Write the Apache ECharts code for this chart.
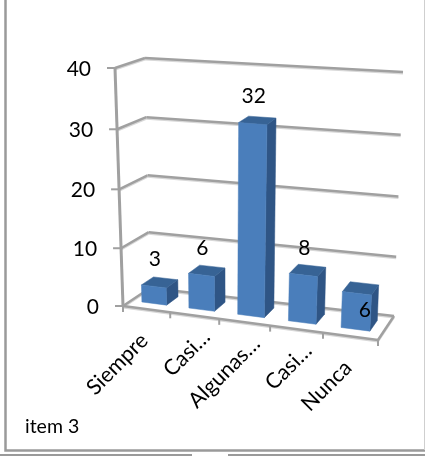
<!DOCTYPE html>
<html>
<head>
<meta charset="utf-8">
<style>html,body{margin:0;padding:0;background:#fff}#chart{width:425px;height:456px}</style>
<script src="https://cdn.jsdelivr.net/npm/echarts@6/dist/echarts.min.js"></script>
</head>
<body>
<div id="chart"></div>
<script>
const categories = ['Siempre', 'Casi…', 'Algunas…', 'Casi…', 'Nunca'];
const values = [3, 6, 32, 8, 6];
const yTicks = [0, 10, 20, 30, 40];
const noteText = 'item 3';

// Corners of the 3D plot box, [x, y] in page pixels.
const box = {
  frontBottomLeft: [123, 306], frontBottomRight: [378, 340],
  backBottomLeft: [150, 288], backBottomRight: [394, 316],
  frontTopLeft: [115, 68], frontTopRight: [392, 88],
  backTopLeft: [145, 58], backTopRight: [403, 72]
};
const fontFamily = 'Lato, Carlito, sans-serif';
const labelSize = 21, categorySize = 21.5, noteSize = 19.5;
const gridStroke = '#a0a0a0', gridShade = '#d8d8d8';
const faceColors = { front: '#4a7ebb', side: '#2f5585', top: '#376395' };
const barBandShare = 0.53, barDepth = [0.3, 0.75];

const lerp = (a, b, t) => a + (b - a) * t;
// Perspective foreshortening along one axis of the box.
const warp = (t, a) => t / (a + (1 - a) * t);

function project(u, v, w) {
  const uu = warp(u, 1.1), vv = warp(v, 1.04);
  const at = k => {
    const bottom = lerp(lerp(box.frontBottomLeft[k], box.frontBottomRight[k], uu),
                        lerp(box.backBottomLeft[k], box.backBottomRight[k], uu), w);
    const top = lerp(lerp(box.frontTopLeft[k], box.frontTopRight[k], uu),
                     lerp(box.backTopLeft[k], box.backTopRight[k], uu), w);
    return lerp(bottom, top, vv);
  };
  return [at(0), at(1)];
}

// Grid-pixel position to box fractions, so the axes' scales drive everything.
const toU = (px, g) => (px - g.x) / g.width;
const toV = (py, g) => 1 - (py - g.y) / g.height;

const line = (a, b, width, color, dy) => ({
  type: 'line',
  shape: { x1: a[0], y1: a[1] + (dy || 0), x2: b[0], y2: b[1] + (dy || 0) },
  style: { stroke: color, lineWidth: width },
  silent: true
});
const stroked = (a, b) => [line(a, b, 2, gridShade, 1.5), line(a, b, 2.5, gridStroke)];
const text = (str, x, y, size, align, vAlign, rotation) => ({
  type: 'text',
  x, y, rotation: rotation || 0,
  style: { text: str, fontFamily, fontSize: size, fill: '#000', align, verticalAlign: vAlign },
  silent: true
});
const face = (points, fill) => ({
  type: 'polygon',
  shape: { points },
  style: { fill, stroke: fill, lineWidth: 0.5 },
  silent: true
});

function renderValueTick(params, api) {
  const g = params.coordSys;
  const value = api.value(0);
  const v = toV(api.coord([0, value])[1], g);
  const front = project(0, v, 0), back = project(0, v, 1), right = project(1, v, 1);
  const children = [
    ...stroked(front, back), ...stroked(back, right),
    line([front[0] - 8, front[1]], front, 2, gridStroke),
    text(String(value), front[0] - 24, front[1] + 1, labelSize, 'right', 'middle')
  ];
  return { type: 'group', children };
}

function renderFrame(params, api) {
  const fl = project(0, 0, 0), fr = project(1, 0, 0), br = project(1, 0, 1);
  const tl = project(0, 1, 0);
  const children = [...stroked(fl, fr), ...stroked(fr, br), line(tl, fl, 3, gridStroke)];
  return { type: 'group', children };
}

function renderCategoryTick(params, api) {
  const g = params.coordSys;
  const i = api.value(0);
  const band = api.size([1, 0])[0];
  const cx = api.coord([i, 0])[0];
  const edge = project(toU(cx + band / 2, g), 0, 0);
  const mid = project(toU(cx, g), 0, 0);
  const children = [line(edge, [edge[0], edge[1] + 6], 2, gridStroke)];
  if (i === 0) {
    const start = project(0, 0, 0);
    children.push(line(start, [start[0], start[1] + 6], 2, gridStroke));
  }
  const label = categories[i];
  const shortened = label.endsWith('…');
  children.push(text(label, mid[0] + (shortened ? 12 : -2), mid[1] + (shortened ? 18 : 28),
    categorySize, 'right', 'middle', Math.PI / 4));
  return { type: 'group', children };
}

function renderBar(params, api) {
  const g = params.coordSys;
  const i = api.value(0), value = api.value(1);
  const band = api.size([1, 0])[0];
  const cx = api.coord([i, 0])[0];
  const half = band * barBandShare / 2;
  const u0 = toU(cx - half, g), u1 = toU(cx + half, g);
  const v = toV(api.coord([i, value])[1], g);
  const [w0, w1] = barDepth;
  const frontFace = [project(u0, 0, w0), project(u1, 0, w0), project(u1, v, w0), project(u0, v, w0)];
  const sideFace = [project(u1, 0, w0), project(u1, 0, w1), project(u1, v, w1), project(u1, v, w0)];
  const topFace = [project(u0, v, w0), project(u1, v, w0), project(u1, v, w1), project(u0, v, w1)];
  const topFront = project((u0 + u1) / 2, v, w0);
  // The last label sits on the bar's front face instead of above the bar.
  const inside = i === values.length - 1;
  const labelY = inside ? topFront[1] + 17 : topFront[1] - 27;
  const labelX = topFront[0] + (inside ? 8 : 1);
  return {
    type: 'group',
    children: [
      face(sideFace, faceColors.side), face(topFace, faceColors.top), face(frontFace, faceColors.front),
      text(String(value), labelX, labelY, labelSize, 'center', 'middle')
    ]
  };
}

const chart = echarts.init(document.getElementById('chart'), null, { renderer: 'canvas' });
chart.setOption({
  animation: false,
  backgroundColor: '#fff',
  grid: { left: 0, right: 0, top: 0, bottom: 0 },
  xAxis: { type: 'category', data: categories, show: false },
  yAxis: { type: 'value', min: 0, max: 40, interval: 10, show: false },
  graphic: [
    { type: 'polyline', silent: true, shape: { points: [[5.5, 0], [5.5, 450.5], [425, 450.5]] },
      style: { stroke: '#9a9a9a', lineWidth: 2.5, fill: null } },
    { type: 'line', silent: true, shape: { x1: 424.5, y1: 0, x2: 424.5, y2: 450 },
      style: { stroke: '#cfcfcf', lineWidth: 1 } },
    { type: 'line', silent: true, shape: { x1: 0, y1: 455, x2: 192, y2: 455 },
      style: { stroke: '#9a9a9a', lineWidth: 2 } },
    { type: 'line', silent: true, shape: { x1: 228, y1: 455, x2: 425, y2: 455 },
      style: { stroke: '#9a9a9a', lineWidth: 2 } },
    { type: 'text', silent: true, x: 25, y: 427,
      style: { text: noteText, fontFamily, fontSize: noteSize, fill: '#000', verticalAlign: 'middle' } }
  ],
  series: [
    { type: 'custom', renderItem: renderValueTick, data: yTicks.map(t => [t]),
      encode: { y: 0 }, clip: false, z: 1, silent: true },
    { type: 'custom', renderItem: renderFrame, data: [[0]], encode: { y: 0 }, clip: false, z: 2, silent: true },
    { type: 'custom', renderItem: renderCategoryTick, data: categories.map((c, i) => [i]),
      encode: { x: 0 }, clip: false, z: 2, silent: true },
    { type: 'custom', renderItem: renderBar, data: values.map((val, i) => [i, val]),
      encode: { x: 0, y: 1 }, clip: false, z: 3, silent: true }
  ]
});
</script>
</body>
</html>
